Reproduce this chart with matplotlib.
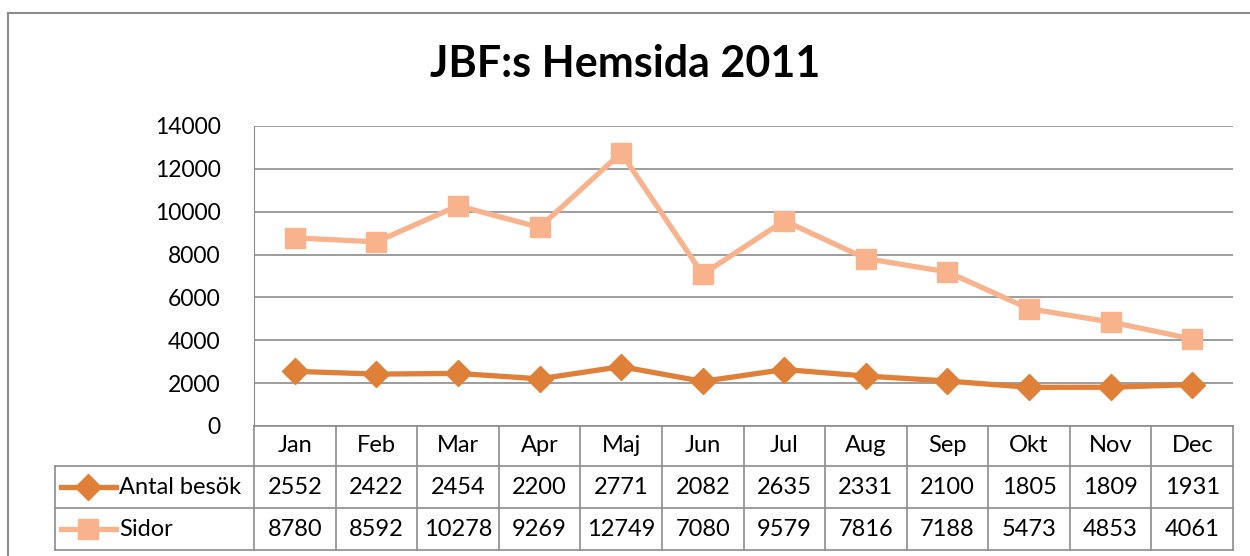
import matplotlib.pyplot as plt
from matplotlib.lines import Line2D

months = ["Jan", "Feb", "Mar", "Apr", "Maj", "Jun", "Jul", "Aug", "Sep", "Okt", "Nov", "Dec"]
besok = [2552, 2422, 2454, 2200, 2771, 2082, 2635, 2331, 2100, 1805, 1809, 1931]
sidor = [8780, 8592, 10278, 9269, 12749, 7080, 9579, 7816, 7188, 5473, 4853, 4061]
series_names = ["Antal besök", "Sidor"]
c_besok = "#DF7F38"
c_sidor = "#F8B38D"

plt.rcParams['font.family'] = ['Lato', 'DejaVu Sans']

W, H = 1250, 556
fig = plt.figure(figsize=(W / 100, H / 100), dpi=100)

# pixel helpers (top-left origin)
def fx(x):
    return x / W

def fy(y):
    return 1 - y / H

left, right, top, bot = 254, 1233, 126, 426
ax = fig.add_axes([fx(left), fy(bot), fx(right - left), (bot - top) / H])

x = list(range(len(months)))
ax.plot(x, besok, color=c_besok, lw=3.8, marker="D", ms=13, zorder=3)
ax.plot(x, sidor, color=c_sidor, lw=3.8, marker="s", ms=15, zorder=3)

ax.set_xlim(-0.5, len(months) - 0.5)
ax.set_ylim(0, 14000)
ax.set_yticks(range(0, 14001, 2000))
ax.set_yticklabels([str(v) for v in range(0, 14001, 2000)], fontsize=16.5)
ax.set_xticks([])
ax.grid(axis="y", color="#8c8c8c", lw=1.2)
ax.set_axisbelow(True)
for s in ["top", "right", "bottom"]:
    ax.spines[s].set_visible(False)
ax.spines["left"].set_color("#8c8c8c")
ax.tick_params(axis="y", length=0, pad=24)

fig.text(0.5, fy(64), "JBF:s Hemsida 2011", ha="center", va="center",
         fontsize=31, fontweight="bold")

# outer chart border
gray = "#8c8c8c"
fig.add_artist(Line2D([fx(8), fx(8)], [fy(13), fy(556)], color=gray, lw=1.5))
fig.add_artist(Line2D([fx(8), fx(1250)], [fy(13), fy(13)], color=gray, lw=1.5))

# data table
cw = (right - left) / len(months)
tleft = 55
fs = 17

def hline(y, x0, x1):
    fig.add_artist(Line2D([fx(x0), fx(x1)], [fy(y), fy(y)], color=gray, lw=1.2))

def vline(x0, y0, y1):
    fig.add_artist(Line2D([fx(x0), fx(x0)], [fy(y0), fy(y1)], color=gray, lw=1.2))

hline(426, left, right)
hline(466, tleft, right)
hline(508, tleft, right)
hline(550, tleft, right)
vline(tleft, 466, 550)
for i in range(len(months) + 1):
    vline(left + i * cw, 426, 550)

for i, m in enumerate(months):
    cx = left + (i + 0.5) * cw
    fig.text(fx(cx), fy(446), m, ha="center", va="center", fontsize=fs)
    fig.text(fx(cx), fy(487), str(besok[i]), ha="center", va="center", fontsize=fs)
    fig.text(fx(cx), fy(529), str(sidor[i]), ha="center", va="center", fontsize=fs)

# legend keys in the table
for yc, col, mk, ms, name in [(487, c_besok, "D", 13, series_names[0]),
                              (529, c_sidor, "s", 15, series_names[1])]:
    fig.add_artist(Line2D([fx(61), fx(116)], [fy(yc), fy(yc)], color=col, lw=3.8))
    fig.add_artist(Line2D([fx(88)], [fy(yc)], color=col, marker=mk, ms=ms, lw=0))
    fig.text(fx(119), fy(yc), name, ha="left", va="center", fontsize=fs)

fig.savefig("out.png", dpi=100)
